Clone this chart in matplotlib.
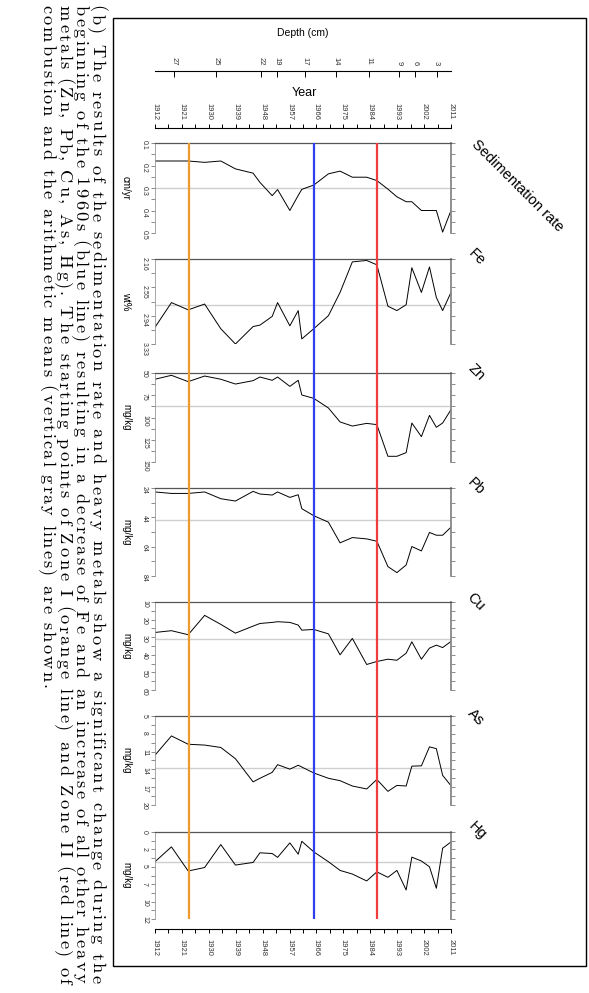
import numpy as np
import matplotlib
matplotlib.use("Agg")
import matplotlib.pyplot as plt
from matplotlib.patches import Rectangle

# --- data ---
years = [1912.0, 1917.5, 1923.1, 1928.6, 1934.0, 1938.9, 1944.8, 1947.1, 1951.2, 1953.0,
         1957.1, 1959.9, 1961.1, 1965.1, 1970.0, 1973.9, 1978.0, 1982.8, 1986.2, 1989.9,
         1992.9, 1996.0, 1997.9, 2001.1, 2003.8, 2006.1, 2008.2, 2011.0]

sed = [0.18, 0.18, 0.18, 0.186, 0.18, 0.215, 0.234, 0.275, 0.334, 0.307, 0.40, 0.333, 0.306, 0.287,
       0.237, 0.225, 0.252, 0.252, 0.267, 0.305, 0.339, 0.361, 0.361, 0.40, 0.40, 0.40, 0.496, 0.40]
fe = [3.10, 2.76, 2.86, 2.78, 3.12, 3.33, 3.09, 3.07, 2.95, 2.76, 3.08, 2.87, 3.26, 3.12,
      2.94, 2.62, 2.20, 2.18, 2.24, 2.81, 2.87, 2.79, 2.28, 2.62, 2.27, 2.69, 2.87, 2.62]
zn = [57, 52.6, 59.7, 53.4, 57, 62.4, 58.6, 54.5, 58.2, 54.5, 65, 58.2, 74.7, 78.5,
      89.3, 105, 109.6, 106.6, 108, 143.6, 143.6, 139.5, 106.2, 121.5, 97.6, 111, 106.2, 91.2]
pb = [26.7, 27.7, 27.7, 26.7, 31.3, 32.9, 26.3, 28.1, 28.8, 26.7, 30.4, 28.6, 38.1, 42.9,
      47.3, 61.4, 57.8, 58.7, 60.3, 77.6, 81.7, 76.5, 63.9, 66.9, 54.3, 56.2, 56.2, 50.7]
cu = [27.3, 26.3, 28.6, 17.6, 22.7, 27.7, 23.7, 22.2, 21.6, 21.2, 21.6, 23.1, 26, 25.6,
      28.1, 40, 30.7, 45.5, 43.8, 42.5, 43.1, 39.1, 32.6, 42.5, 36.2, 34.5, 35.9, 32.4]
as_ = [11.6, 8.36, 9.76, 9.9, 10.3, 12.2, 16.1, 15.5, 14.5, 13.2, 13.96, 13.3, 13.6, 14.6,
       15.5, 15.9, 16.8, 17.3, 15.7, 17.7, 16.7, 16.8, 13.45, 13.4, 10.2, 10.5, 15.0, 16.75]
hg = [4.1, 2.05, 5.38, 4.9, 1.73, 4.56, 4.2, 2.87, 2.97, 3.5, 1.5, 3.06, 1.28, 2.74,
      4.1, 5.3, 5.8, 6.75, 5.5, 6.25, 5.3, 8.0, 3.47, 4.0, 4.8, 7.76, 2.24, 1.37]

names = ["Sedimentation rate", "Fe", "Zn", "Pb", "Cu", "As", "Hg"]
units = ["cm/yr", "wt%", "mg/kg", "mg/kg", "mg/kg", "mg/kg", "mg/kg"]
series = [sed, fe, zn, pb, cu, as_, hg]
means = [0.30, 2.80, 87, 46, 31, 13.8, 4.15]
yticks = [[0.1, 0.2, 0.3, 0.4, 0.5],
          [2.16, 2.55, 2.94, 3.33],
          [50, 75, 100, 125, 150],
          [24, 44, 64, 84],
          [10, 20, 30, 40, 50, 60],
          [5, 8, 11, 14, 17, 20],
          [0, 2.4, 4.8, 7.2, 9.6, 12]]
ylabels = [["0.1", "0.2", "0.3", "0.4", "0.5"],
           ["2.16", "2.55", "2.94", "3.33"],
           ["50", "75", "100", "125", "150"],
           ["24", "44", "64", "84"],
           ["10", "20", "30", "40", "50", "60"],
           ["5", "8", "11", "14", "17", "20"],
           ["0", "2", "5", "7", "10", "12"]]

zone_years = [1923.3, 1965.1, 1986.1]
zone_colors = ["#EE9A2C", "#2F3EEF", "#F23C3C"]

depth_years = [1918.5, 1932.4, 1947.5, 1952.9, 1962.2, 1972.4, 1983.7, 1993.5, 1999.0, 2006.2]
depth_labels = ["27", "25", "22", "19", "17", "14", "11", "9", "6", "3"]
year_ticks = list(range(1912, 2012, 9))

caption = [
    "(b) The results of the sedimentation rate and heavy metals show a significant change during the",
    "beginning of the 1960s (blue line) resulting in a decrease of Fe and an increase of all other heavy",
    "metals (Zn, Pb, Cu, As, Hg). The starting points of Zone I (orange line) and Zone II (red line) of",
    "combustion and the arithmetic means (vertical gray lines) are shown.",
]

plt.rcParams['font.family'] = ['Liberation Sans', 'DejaVu Sans']

W, H = 589, 993
fig = plt.figure(figsize=(W / 100, H / 100), dpi=100)


def fx(x):
    return x / W


def fy(y):
    return 1 - y / H


X0, X1 = 155, 451
panels = [(143, 233), (259, 344), (373, 462), (488, 576), (602, 690), (716, 805), (832, 919)]
title_pos = [(517, 186), (477, 257), (476, 372), (476, 486), (476, 602), (476, 717), (477, 831)]

for i, (top, bot) in enumerate(panels):
    ax = fig.add_axes([fx(X0), fy(bot), fx(X1) - fx(X0), (bot - top) / H])
    ax.patch.set_visible(False)
    tk = yticks[i]
    ax.set_xlim(1912, 2011)
    ax.set_ylim(tk[-1], tk[0])
    ax.axhline(means[i], color="#cfcfcf", lw=1.0, zorder=1)
    ax.plot(years, series[i], color="black", lw=0.7, zorder=2)
    ax.spines["bottom"].set_visible(False)
    ax.spines["top"].set_color("#555555")
    ax.spines["top"].set_linewidth(0.9)
    ax.spines["right"].set_color("#888888")
    ax.spines["right"].set_linewidth(1.3)
    ax.spines["left"].set_color("#999999")
    ax.spines["left"].set_linewidth(0.6)
    ax.set_xticks([])
    ax.set_yticks(tk)
    ax.set_yticks([(a + b) / 2 for a, b in zip(tk[:-1], tk[1:])], minor=True)
    ax.set_yticklabels(ylabels[i], rotation=-90, fontsize=5, color="#333333")
    ax.tick_params(axis="y", which="both", left=True, right=True, direction="out",
                   length=3, width=0.6, color="#777777", pad=2)
    fig.text(fx(126), fy((top + bot) / 2), units[i], rotation=-90, fontsize=7,
             ha="center", va="center")
    fig.text(fx(title_pos[i][0]), fy(title_pos[i][1]), names[i], rotation=-45,
             fontsize=10.5, ha="center", va="center")

# zone lines across all panels
ax_ov = fig.add_axes([fx(X0), fy(919), fx(X1) - fx(X0), (919 - 143) / H])
ax_ov.set_xlim(1912, 2011)
ax_ov.axis("off")
for yr, c in zip(zone_years, zone_colors):
    ax_ov.axvline(yr, color=c, lw=1.6)

# top year axis
ax_yt = fig.add_axes([fx(X0), fy(128), fx(X1) - fx(X0), 1e-4])
ax_yt.set_xlim(1912, 2011)
for s in ["left", "right", "bottom"]:
    ax_yt.spines[s].set_visible(False)
ax_yt.spines["top"].set_linewidth(0.8)
ax_yt.set_yticks([])
ax_yt.xaxis.tick_top()
ax_yt.set_xticks(year_ticks)
ax_yt.set_xticks(np.arange(1912, 2011.1, 4.5), minor=True)
ax_yt.set_xticklabels([str(y) for y in year_ticks], rotation=-90, fontsize=5.5, color="#333333")
ax_yt.tick_params(axis="x", which="both", direction="out", length=3, width=0.7, pad=3)
fig.text(fx(304), fy(93), "Year", fontsize=9, ha="center", va="center")

# depth axis
ax_d = fig.add_axes([fx(X0), fy(71), fx(X1) - fx(X0), 1e-4])
ax_d.set_xlim(1912, 2011)
for s in ["left", "right", "bottom"]:
    ax_d.spines[s].set_visible(False)
ax_d.spines["top"].set_linewidth(0.8)
ax_d.set_yticks([])
ax_d.xaxis.tick_top()
ax_d.set_xticks(depth_years)
ax_d.set_xticklabels(depth_labels, rotation=-90, fontsize=5.5, color="#333333")
ax_d.tick_params(axis="x", direction="in", length=4, width=0.7, pad=4)
fig.text(fx(303), fy(33), "Depth (cm)", fontsize=7.5, ha="center", va="center")

# bottom year axis
ax_yb = fig.add_axes([fx(X0), fy(929), fx(X1) - fx(X0), 1e-4])
ax_yb.set_xlim(1912, 2011)
for s in ["left", "right", "top"]:
    ax_yb.spines[s].set_visible(False)
ax_yb.spines["bottom"].set_linewidth(0.8)
ax_yb.set_yticks([])
ax_yb.set_xticks(year_ticks)
ax_yb.set_xticks(np.arange(1912, 2011.1, 4.5), minor=True)
ax_yb.set_xticklabels([str(y) for y in year_ticks], rotation=-90, fontsize=5.5, color="#333333")
ax_yb.tick_params(axis="x", which="both", direction="out", length=3, width=0.7, pad=4)

# outer frame
fig.add_artist(Rectangle((fx(113), fy(966)), fx(586) - fx(113), (966 - 18) / H,
                         transform=fig.transFigure, fill=False, lw=1.0, color="black"))

# caption: rotated, spread out so each line fills the page width like the original
renderer = fig.canvas.get_renderer()
cap_fs = 13.2


def text_w(s):
    t = fig.text(0, 0, s, fontsize=cap_fs, family="cmr10")
    w = t.get_window_extent(renderer).width
    t.remove()
    return w


baselines = [92, 75.5, 59, 42.5]
y_start = 5
line_ends = [985, 985, 985, 690]
for j, line in enumerate(caption):
    scale = (line_ends[j] - y_start) / text_w(line)
    for k, ch in enumerate(line):
        if ch == " ":
            continue
        pos = text_w(line[:k + 1]) - text_w(ch)
        fig.text(fx(baselines[j]), fy(y_start + pos * scale), ch, rotation=-90,
                 rotation_mode="anchor", ha="left", va="baseline",
                 fontsize=cap_fs, family="cmr10")

fig.savefig("out.png", dpi=100)
